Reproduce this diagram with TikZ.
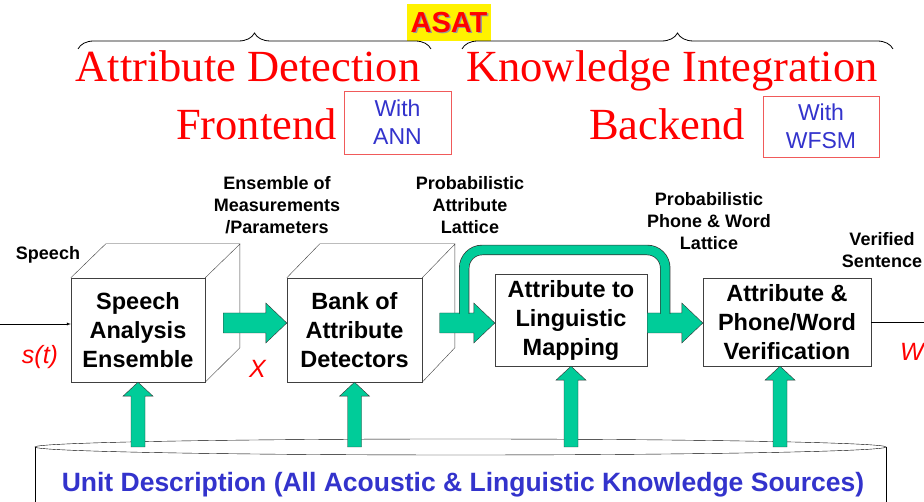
\documentclass[tikz,border=0pt]{standalone}
\usepackage{fontspec}
\setmainfont{Liberation Sans}
\newfontfamily\titlefont{Liberation Serif}
\usetikzlibrary{calc,decorations.pathreplacing}
\definecolor{asatgreen}{RGB}{0,204,153}
\definecolor{asatblue}{RGB}{51,51,204}
\definecolor{boxred}{RGB}{240,90,90}

\tikzset{
  block/.style={draw=black!75, fill=white, thin, align=center, inner sep=0pt,
    font=\fontsize{23.5}{29}\selectfont\bfseries},
  cube/.style={draw=black!75, thin},
  lbl/.style={align=center, font=\fontsize{18}{22}\selectfont\bfseries},
  sig/.style={text=red, font=\fontsize{25}{30}\selectfont\itshape},
  headline/.style={text=red, anchor=base, font=\fontsize{44.5}{50}\selectfont\titlefont},
  withbox/.style={draw=boxred, thin, align=center, inner sep=0pt, text=asatblue,
    font=\fontsize{23}{28}\selectfont},
  fatarrow/.style={draw=black!80, fill=asatgreen, thin, to path={
    let \p1=(\tikztostart), \p2=(\tikztotarget) in
    (\x1,\y1+10pt) -- (\x2-21pt,\y1+10pt) -- (\x2-21pt,\y1+20pt) -- (\x2,\y1)
    -- (\x2-21pt,\y1-20pt) -- (\x2-21pt,\y1-10pt) -- (\x1,\y1-10pt) -- cycle}},
  fatup/.style={draw=black!80, fill=asatgreen, thin, to path={
    let \p1=(\tikztostart), \p2=(\tikztotarget) in
    (\x2-7pt,\y1) -- (\x2-7pt,\y2-14pt) -- (\x2-15pt,\y2-14pt) -- (\x2,\y2)
    -- (\x2+15pt,\y2-14pt) -- (\x2+7pt,\y2-14pt) -- (\x2+7pt,\y1) -- cycle}},
  tube/.style={double=asatgreen, double distance=9pt, line width=0.7pt, draw=black!80,
    rounded corners=18pt}
}

\begin{document}
\begin{tikzpicture}[x=1pt,y=1pt]
\useasboundingbox (0,0) rectangle (924,502);

% title and braces
\node[fill=yellow, minimum width=84pt, minimum height=37pt, inner sep=0pt] (asat) at (449,479.5) {};
\node[text=black!40, font=\fontsize{29}{34}\selectfont\bfseries] (asatsh) at ([shift={(1.5,-1.5)}]asat.center) {ASAT};
\node[text=red, font=\fontsize{29}{34}\selectfont\bfseries] (asattxt) at (asat.center) {ASAT};

\draw[thick, decorate, decoration={brace, amplitude=16pt}] (78,453) -- (431,453);
\draw[thick, decorate, decoration={brace, amplitude=16pt}] (462,453) -- (893,453);

\node[headline] (detect) at (248,420) {Attribute Detection};
\node[headline] (front) at (256.5,362) {Frontend};
\node[withbox, minimum width=107pt, minimum height=63pt] (ann) at (397.5,379.5) {With\\ANN};
\node[headline] (integ) at (672,420) {Knowledge Integration};
\node[headline] (back) at (667,362) {Backend};
\node[withbox, minimum width=116pt, minimum height=61pt] (wfsm) at (821,375.5) {With\\WFSM};

% the four stages
\node[block, minimum width=134pt, minimum height=104pt] (sa) at (138,172) {Speech\\Analysis\\Ensemble};
\node[block, minimum width=135pt, minimum height=104pt] (bank) at (354.5,172) {Bank of\\Attribute\\Detectors};
\node[block, minimum width=152pt, minimum height=92pt] (map) at (571,182) {Attribute to\\Linguistic\\Mapping};
\node[block, minimum width=168pt, minimum height=88pt] (ver) at (787,180) {Attribute \&\\Phone/Word\\Verification};

\draw[cube] (sa.north west) -- ++(35,34) -- ++(134,0) -- ++(0,-104) -- (sa.south east)
  (sa.north east) -- ++(35,34);
\draw[cube] (bank.north west) -- ++(33,34) -- ++(135,0) -- ++(0,-104) -- (bank.south east)
  (bank.north east) -- ++(33,34);

% labels
\node[lbl] (speech) at (48,247) {Speech};
\node[sig] (st) at (40,145) {s(t)};
\node[sig] (xsym) at (257.5,133) {X};
\node[sig] (wsym) at (912,150) {W};
\node[lbl] (meas) at (277,297) {Ensemble of\\Measurements\\/Parameters};
\node[lbl] (alat) at (470,297) {Probabilistic\\Attribute\\Lattice};
\node[lbl] (plat) at (709,281) {Probabilistic\\Phone \& Word\\Lattice};
\node[lbl] (vsent) at (882,252) {Verified\\Sentence};

% signal in and out
\coordinate (in) at (0,178);
\coordinate (out) at (924,180);
\draw[thin, -latex] (in) -- (in -| sa.west);
\draw[thin] (ver.east) -- (ver.east -| out);

% knowledge sources
\coordinate (kb) at (460.5,55);
\draw[thin, fill=white] (kb) ellipse [x radius=425.5, y radius=8];
\draw[thin] ([xshift=-425.5pt]kb) -- ++(0,-70) ([xshift=425.5pt]kb) -- ++(0,-70);
\node[text=asatblue, anchor=base, font=\fontsize{26.5}{30}\selectfont\bfseries] (kbtext) at (463,10)
  {Unit Description (All Acoustic \& Linguistic Knowledge Sources)};

% green arrows
\draw[fatarrow] ([xshift=18pt,yshift=7pt]sa.east) to (bank.west);
\draw[fatarrow] ([xshift=17.5pt,yshift=7pt]bank.east) to (map.west);
\draw[fatarrow] ([yshift=-3pt]map.east) to (ver.west);
\draw[tube] ([xshift=42pt,yshift=16pt]bank.east) |- ([xshift=18pt,yshift=70pt]map.east)
  -- ([xshift=18pt,yshift=6pt]map.east);

\draw[fatup] (sa.south |- kb) to (sa.south);
\draw[fatup] (bank.south |- kb) to (bank.south);
\draw[fatup] (map.south |- kb) to (map.south);
\draw[fatup] ([xshift=-7pt]ver.south |- kb) to ([xshift=-7pt]ver.south);
\end{tikzpicture}
\end{document}
